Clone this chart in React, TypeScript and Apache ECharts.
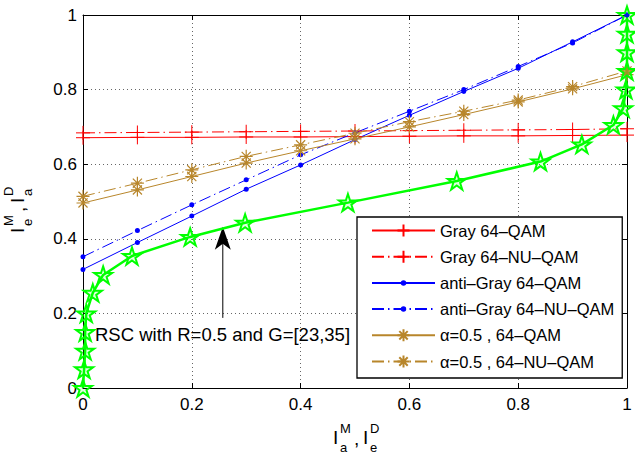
import React, { useEffect, useRef } from 'react';
import * as echarts from 'echarts';

const FONT = '"Liberation Sans", Arial, Helvetica, sans-serif';

// ---- data ----
const xPoints = [0, 0.1, 0.2, 0.3, 0.4, 0.5, 0.6, 0.7, 0.8, 0.9, 1];
const grayQAM = [0.671, 0.672, 0.672, 0.673, 0.673, 0.674, 0.675, 0.676, 0.676, 0.677, 0.678];
const grayNUQAM = [0.684, 0.685, 0.686, 0.687, 0.688, 0.689, 0.69, 0.691, 0.692, 0.693, 0.695];
const antiGrayQAM = [0.318, 0.39, 0.461, 0.533, 0.598, 0.666, 0.731, 0.795, 0.857, 0.928, 1.0];
const antiGrayNUQAM = [0.352, 0.422, 0.491, 0.558, 0.625, 0.684, 0.742, 0.8, 0.862, 0.925, 1.0];
const alphaQAM = [0.496, 0.531, 0.567, 0.603, 0.636, 0.668, 0.7, 0.733, 0.767, 0.802, 0.84];
const alphaNUQAM = [0.514, 0.549, 0.585, 0.621, 0.652, 0.683, 0.714, 0.742, 0.772, 0.808, 0.85];
const rscX = [0, 0.002, 0.004, 0.004, 0.006, 0.018, 0.037, 0.09, 0.197, 0.298, 0.487, 0.687, 0.841, 0.917, 0.975, 0.993, 0.998, 1, 1, 1, 1];
const rscY = [0, 0.05, 0.1, 0.15, 0.2, 0.255, 0.303, 0.354, 0.405, 0.443, 0.497, 0.555, 0.607, 0.653, 0.705, 0.75, 0.8, 0.85, 0.9, 0.95, 1];
const seriesNames = [
  'Gray 64–QAM',
  'Gray 64–NU–QAM',
  'anti–Gray 64–QAM',
  'anti–Gray 64–NU–QAM',
  'α=0.5 , 64–QAM',
  'α=0.5 , 64–NU–QAM',
];
const annotationText = 'RSC with R=0.5 and G=[23,35]';
const arrowX = 0.257;
const arrowTail = 0.188;
const arrowTip = 0.432;
const axisMin = 0;
const axisMax = 1;
const axisStep = 0.2;

// ---- symbols ----
const PLUS = 'path://M0,-1L0,1M-1,0L1,0';
const ASTER = 'path://M0,-1L0,1M-1,0L1,0M-0.7,-0.7L0.7,0.7M-0.7,0.7L0.7,-0.7';
const DOT = 'path://M-2.2,-2.2L-2.2,-2.2M2.2,2.2L2.2,2.2M-1,0A1,1,0,1,1,1,0A1,1,0,1,1,-1,0Z';
const STAR =
  'path://M0,-1L0.2245,-0.309L0.951,-0.309L0.3633,0.118L0.588,0.809L0,0.382L-0.588,0.809L-0.3633,0.118L-0.951,-0.309L-0.2245,-0.309Z';

const RED = '#ff0000';
const BLUE = '#0000ff';
const GOLD = '#b8862b';
const GREEN = '#00ff00';
const DASHDOT = [12, 4, 1.5, 4];

const pairs = (ys: number[]) => xPoints.map((x, i) => [x, ys[i]]);

function makeAxis(position: string, isX: boolean, main: boolean) {
  return {
    type: 'value',
    position,
    min: axisMin,
    max: axisMax,
    interval: axisStep,
    axisLine: { show: true, onZero: false, lineStyle: { color: '#000', width: 1 } },
    axisTick: { show: true, inside: true, length: 5, lineStyle: { color: '#000', width: 1 } },
    axisLabel: main
      ? { show: true, fontSize: 17, color: '#000', fontFamily: FONT, margin: isX ? 8 : 6 }
      : { show: false },
    splitLine: main
      ? { show: true, lineStyle: { color: '#666', width: 1, type: [1, 3] } }
      : { show: false },
  };
}

export default function App() {
  const ref = useRef<HTMLDivElement>(null);

  useEffect(() => {
    document.body.style.margin = '0';
    if (!ref.current) return;
    const chart = echarts.init(ref.current, undefined, { renderer: 'svg' });

    const lineSeries = (
      name: string,
      ys: number[],
      color: string,
      dashed: boolean,
      symbol: string,
      symbolSize: number,
      borderWidth: number
    ) => ({
      type: 'line',
      name,
      data: pairs(ys),
      xAxisIndex: 0,
      yAxisIndex: 0,
      symbol,
      symbolSize,
      showSymbol: true,
      lineStyle: { color, width: 1, type: dashed ? DASHDOT : 'solid' },
      itemStyle: { color, borderColor: color, borderWidth },
      silent: true,
      emphasis: { disabled: true },
    });

    const option: any = {
      animation: false,
      grid: { left: 83, right: 8, top: 15, bottom: 68, containLabel: false },
      xAxis: [makeAxis('bottom', true, true), makeAxis('top', true, false)],
      yAxis: [makeAxis('left', false, true), makeAxis('right', false, false)],
      legend: {
        orient: 'vertical',
        left: 357,
        top: 217,
        data: seriesNames,
        itemWidth: 63,
        itemHeight: 15,
        itemGap: 9.2,
        padding: [5, 8, 8, 14],
        borderColor: '#000',
        borderWidth: 1.3,
        backgroundColor: '#fff',
        selectedMode: false,
        textStyle: { fontSize: 16.5, color: '#000', fontFamily: FONT, lineHeight: 16 },
      },
      series: [
        lineSeries(seriesNames[0], grayQAM, RED, false, PLUS, 14, 1),
        lineSeries(seriesNames[1], grayNUQAM, RED, true, PLUS, 14, 1),
        lineSeries(seriesNames[2], antiGrayQAM, BLUE, false, DOT, 11, 0),
        lineSeries(seriesNames[3], antiGrayNUQAM, BLUE, true, DOT, 11, 0),
        lineSeries(seriesNames[4], alphaQAM, GOLD, false, ASTER, 13, 1.2),
        lineSeries(seriesNames[5], alphaNUQAM, GOLD, true, ASTER, 13, 1.2),
        {
          type: 'line',
          name: 'RSC',
          data: rscX.map((x, i) => [x, rscY[i]]),
          symbol: STAR,
          symbolSize: 18,
          symbolKeepAspect: true,
          showSymbol: true,
          lineStyle: { color: GREEN, width: 2.5 },
          itemStyle: { color: 'rgba(0,255,0,0.12)', borderColor: GREEN, borderWidth: 2 },
          silent: true,
          emphasis: { disabled: true },
          z: 3,
        },
      ],
    };
    chart.setOption(option);

    const tip = chart.convertToPixel({ gridIndex: 0 }, [arrowX, arrowTip]) as number[];
    const tail = chart.convertToPixel({ gridIndex: 0 }, [arrowX, arrowTail]) as number[];
    const ax = tip[0];
    const ty = tip[1];

    const t = (text: string, x: number, y: number, size: number) => ({
      type: 'text',
      x,
      y,
      style: { text, fontSize: size, fontFamily: FONT, fill: '#000', align: 'left', verticalAlign: 'middle' },
      silent: true,
    });

    chart.setOption({
      graphic: [
        {
          type: 'line',
          shape: { x1: ax, y1: ty + 10, x2: tail[0], y2: tail[1] },
          style: { stroke: '#000', lineWidth: 1 },
          silent: true,
        },
        {
          type: 'polygon',
          shape: { points: [[ax, ty], [ax + 8, ty + 23], [ax, ty + 17], [ax - 8, ty + 23]] },
          style: { fill: '#000' },
          silent: true,
        },
        {
          type: 'text',
          x: 95,
          y: 334,
          style: {
            text: annotationText,
            fontSize: 18.5,
            fontFamily: FONT,
            fill: '#000',
            align: 'left',
            verticalAlign: 'middle',
          },
          silent: true,
        },
        // x axis name: I_a^M , I_e^D
        t('I', 333, 437, 19),
        t('M', 340, 428, 13),
        t('a', 340, 447, 13),
        t(',', 354, 438, 19),
        t('I', 363, 437, 19),
        t('D', 370, 428, 13),
        t('e', 370, 447, 13),
        // y axis name: I_e^M , I_a^D (rotated)
        {
          type: 'group',
          x: 17,
          y: 233,
          rotation: Math.PI / 2,
          children: [
            t('I', 0, 0, 19),
            t('M', 7, -9, 13),
            t('e', 7, 10, 13),
            t(',', 21, 1, 19),
            t('I', 30, 0, 19),
            t('D', 37, -9, 13),
            t('a', 37, 10, 13),
          ],
        },
      ],
    });

    return () => chart.dispose();
  }, []);

  return <div ref={ref} style={{ width: 635, height: 456 }} />;
}
